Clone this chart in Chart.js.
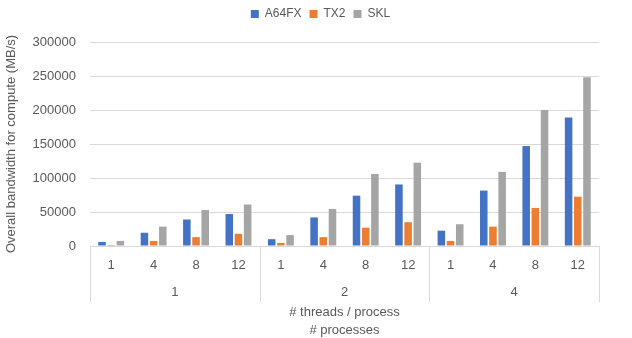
<!DOCTYPE html>
<html>
<head>
<meta charset="utf-8">
<script src="https://cdn.jsdelivr.net/npm/chart.js@4"></script>
<style>
  html, body { margin: 0; padding: 0; background: #fff; }
  #wrap { width: 632px; height: 338px; }
</style>
</head>
<body>
<div id="wrap"><canvas id="chart"></canvas></div>
<script>
// Data
const threads = ['1', '4', '8', '12', '1', '4', '8', '12', '1', '4', '8', '12'];
const processes = ['1', '2', '4'];
const a64fx = [6000, 19500, 39000, 47000, 10000, 42000, 74000, 90500, 22500, 81500, 147000, 189000];
const tx2 = [1500, 7500, 13000, 18000, 4500, 13000, 27000, 35000, 7500, 28500, 56000, 72500];
const skl = [7500, 28500, 53000, 61000, 16000, 54500, 106000, 122500, 32000, 109000, 200000, 248000];
const yTicks = [0, 50000, 100000, 150000, 200000, 250000, 300000];

const textColor = '#595959';
const gridColor = '#D9D9D9';
const fontFamily = '"Liberation Sans", Arial, sans-serif';

// Extra room under the legend, and centre it over the plot like the original
const legendSpace = {
  id: 'legendSpace',
  beforeInit(chart) {
    const fit = chart.legend.fit;
    chart.legend.fit = function () {
      fit.bind(chart.legend)();
      this.height += 12;
    };
  },
  afterLayout(chart) {
    chart.legend.left += 21;
    chart.legend.right += 21;
  }
};

// Draws the group row (# processes), separators and the two-line axis title
const groupAxis = {
  id: 'groupAxis',
  afterDraw(chart) {
    const ctx = chart.ctx;
    const x = chart.scales.x;
    const area = chart.chartArea;
    const per = threads.length / processes.length;
    const half = (x.getPixelForValue(1) - x.getPixelForValue(0)) / 2;

    ctx.save();
    ctx.strokeStyle = gridColor;
    ctx.lineWidth = 1;
    for (let i = 0; i <= processes.length; i++) {
      const idx = Math.min(i * per, threads.length - 1);
      let px = x.getPixelForValue(idx) + (i * per > threads.length - 1 ? half : -half);
      px = Math.round(px) + 0.5;
      ctx.beginPath();
      ctx.moveTo(px, area.bottom);
      ctx.lineTo(px, area.bottom + 56);
      ctx.stroke();
    }

    ctx.fillStyle = textColor;
    ctx.font = '13px ' + fontFamily;
    ctx.textAlign = 'center';
    ctx.textBaseline = 'middle';
    processes.forEach((p, i) => {
      const a = x.getPixelForValue(i * per);
      const b = x.getPixelForValue(i * per + per - 1);
      ctx.fillText(p, (a + b) / 2, area.bottom + 46);
    });
    const mid = (area.left + area.right) / 2;
    ctx.fillText('# threads / process', mid, area.bottom + 66);
    ctx.fillText('# processes', mid, area.bottom + 84);
    ctx.restore();
  }
};

new Chart(document.getElementById('chart'), {
  type: 'bar',
  data: {
    labels: threads,
    datasets: [
      { label: 'A64FX', data: a64fx, backgroundColor: '#4472C4' },
      { label: 'TX2', data: tx2, backgroundColor: '#ED7D31' },
      { label: 'SKL', data: skl, backgroundColor: '#A5A5A5' }
    ]
  },
  options: {
    responsive: true,
    maintainAspectRatio: false,
    animation: false,
    datasets: { bar: { categoryPercentage: 0.65, barPercentage: 0.82 } },
    layout: { padding: { top: 0, right: 33, left: 0, bottom: 0 } },
    plugins: {
      tooltip: { enabled: false },
      legend: {
        position: 'top',
        labels: {
          boxWidth: 8, boxHeight: 8, padding: 8,
          color: textColor,
          font: { family: fontFamily, size: 12 }
        }
      }
    },
    scales: {
      x: {
        grid: { display: false, drawTicks: false },
        border: { display: false },
        ticks: { color: textColor, padding: 12, font: { family: fontFamily, size: 13 } },
        afterFit: s => { s.height = 92; }
      },
      y: {
        min: 0, max: 300000,
        afterBuildTicks: s => { s.ticks = yTicks.map(v => ({ value: v })); },
        grid: { color: gridColor, drawTicks: false },
        border: { display: false },
        ticks: {
          color: textColor, padding: 14,
          font: { family: fontFamily, size: 13 },
          callback: v => String(v)
        },
        title: {
          display: true,
          text: 'Overall bandwidth for compute (MB/s)',
          color: textColor,
          padding: { top: 4, bottom: 0 },
          font: { family: fontFamily, size: 13 }
        },
        afterFit: s => { s.width = 90; }
      }
    }
  },
  plugins: [legendSpace, groupAxis]
});
</script>
</body>
</html>
